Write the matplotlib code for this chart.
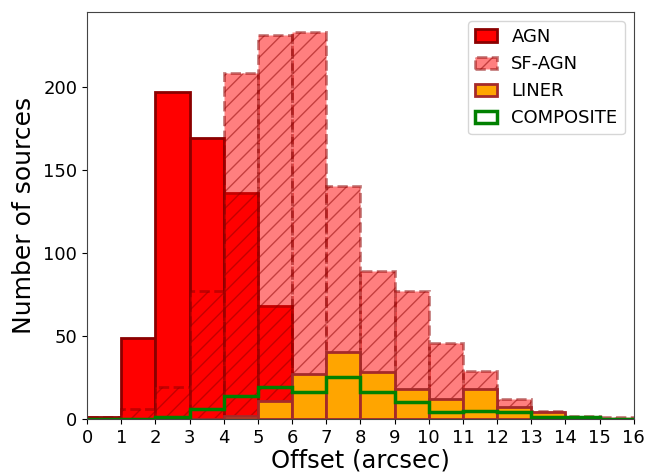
import matplotlib
matplotlib.use("Agg")
import matplotlib.pyplot as plt
import numpy as np

# bin edges and counts per bin
bins = np.arange(0, 17, 1)
agn = [1, 49, 197, 169, 136, 68, 0, 0, 0, 0, 0, 0, 0, 0, 0, 0]
sf_agn = [1, 6, 19, 77, 208, 231, 233, 140, 89, 77, 46, 29, 12, 5, 2, 1]
liner = [0, 0, 0, 0, 2, 11, 27, 40, 28, 18, 12, 18, 7, 4, 1, 0]
composite = [0, 0, 1, 6, 14, 19, 16, 25, 16, 10, 4, 5, 4, 1, 1, 0]

centers = bins[:-1] + 0.5

fig = plt.figure(figsize=(6.47, 4.75), dpi=100)
ax = fig.add_axes([0.1345, 0.118, 0.845, 0.857])

ax.hist(centers, bins=bins, weights=agn, histtype='bar', color='red',
        edgecolor='darkred', linewidth=2, label='AGN')
ax.hist(centers, bins=bins, weights=sf_agn, histtype='bar', color='red',
        alpha=0.5, edgecolor='darkred', linewidth=2, linestyle='--',
        hatch='//', label='SF-AGN')
ax.hist(centers, bins=bins, weights=liner, histtype='bar', color='orange',
        edgecolor='brown', linewidth=2, label='LINER')
ax.hist(centers, bins=bins, weights=composite, histtype='step',
        color='green', linewidth=2.5, label='COMPOSITE')

ax.set_xlim(0, 16)
ax.set_ylim(0, 245)
ax.set_xticks(bins)
ax.set_yticks([0, 50, 100, 150, 200])
ax.tick_params(axis='both', labelsize=13)
ax.set_xlabel("Offset (arcsec)", fontsize=17.5, labelpad=1)
ax.set_ylabel("Number of sources", fontsize=18, labelpad=5)
for sp in ax.spines.values():
    sp.set_color('#444444')

ax.legend(loc='upper right', fontsize=13, handlelength=1.2,
          handletextpad=0.8, labelspacing=0.5, borderaxespad=0.5)

fig.savefig("out.png", dpi=100)
